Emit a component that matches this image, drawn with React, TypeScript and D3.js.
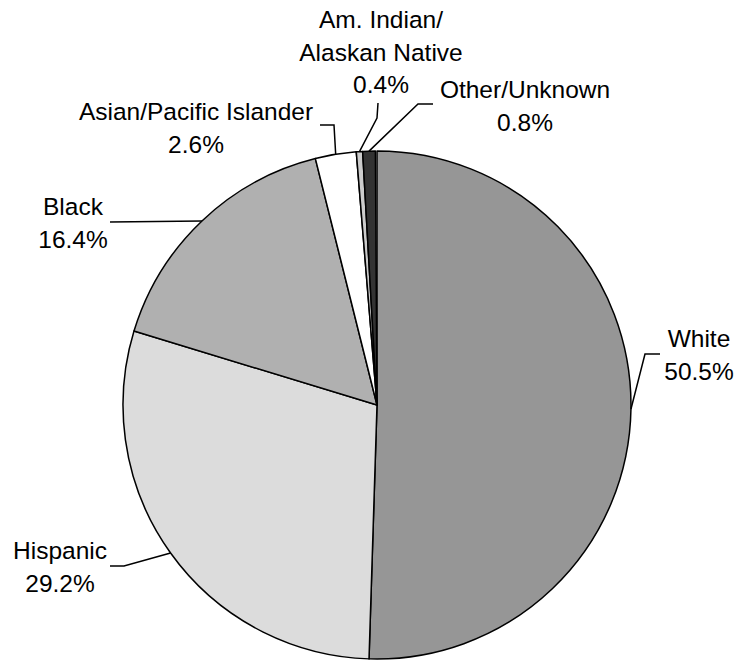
import React from "react";
import * as d3 from "d3";

const categories = ["White", "Hispanic", "Black", "Asian/Pacific Islander", "Am. Indian/Alaskan Native", "Other/Unknown"];
const values = [50.5, 29.2, 16.4, 2.6, 0.4, 0.8];
const labelLines = [
  ["White", "50.5%"],
  ["Hispanic", "29.2%"],
  ["Black", "16.4%"],
  ["Asian/Pacific Islander", "2.6%"],
  ["Am. Indian/", "Alaskan Native", "0.4%"],
  ["Other/Unknown", "0.8%"],
];
const fills = ["#969696", "#dcdcdc", "#b0b0b0", "#ffffff", "#cccccc", "#333333"];

// layout: label centre x, first baseline y, leader elbow points
const layout = [
  { x: 699, y: 347, pts: [[645, 354], [660, 354]] },
  { x: 60, y: 559, pts: [[124, 566], [110, 566]] },
  { x: 73, y: 215, pts: [[110, 222]] },
  { x: 196, y: 120, pts: [[334, 125], [320, 125]] },
  { x: 381, y: 28, pts: [[377, 118], [378, 103]] },
  { x: 525, y: 98, pts: [[418, 104], [433, 104]] },
];

export default function App() {
  const cx = 377, cy = 405, r = 254;
  const total = d3.sum(values);
  const pie = d3.pie<number>().sort(null).value((d) => d).startAngle(0).endAngle(2 * Math.PI * total / 100);
  const arcs = pie(values);
  const arc = d3.arc<d3.PieArcDatum<number>>().innerRadius(0).outerRadius(r);
  const line = d3.line();
  return (
    <svg width={738} height={660} style={{ position: "absolute", left: 0, top: 0 }}>
      <g transform={`translate(${cx},${cy})`}>
        {arcs.map((a, i) => (
          <path key={categories[i]} d={arc(a) || ""} fill={fills[i]} stroke="#000" strokeWidth={1.5} strokeLinejoin="round" />
        ))}
      </g>
      {arcs.map((a, i) => {
        const mid = (a.startAngle + a.endAngle) / 2;
        const ex = cx + r * Math.sin(mid);
        const ey = cy - r * Math.cos(mid);
        const pts: [number, number][] = [[ex, ey], ...(layout[i].pts as [number, number][])];
        return <path key={"l" + i} d={line(pts) || ""} fill="none" stroke="#000" strokeWidth={1.5} />;
      })}
      {labelLines.map((ls, i) => (
        <text key={"t" + i} x={layout[i].x} y={layout[i].y} textAnchor="middle" fontFamily="Liberation Sans, Arial, sans-serif" fontSize={24.5} fill="#000">
          {ls.map((s, j) => (
            <tspan key={j} x={layout[i].x} y={layout[i].y + j * 32.5}>{s}</tspan>
          ))}
        </text>
      ))}
    </svg>
  );
}
